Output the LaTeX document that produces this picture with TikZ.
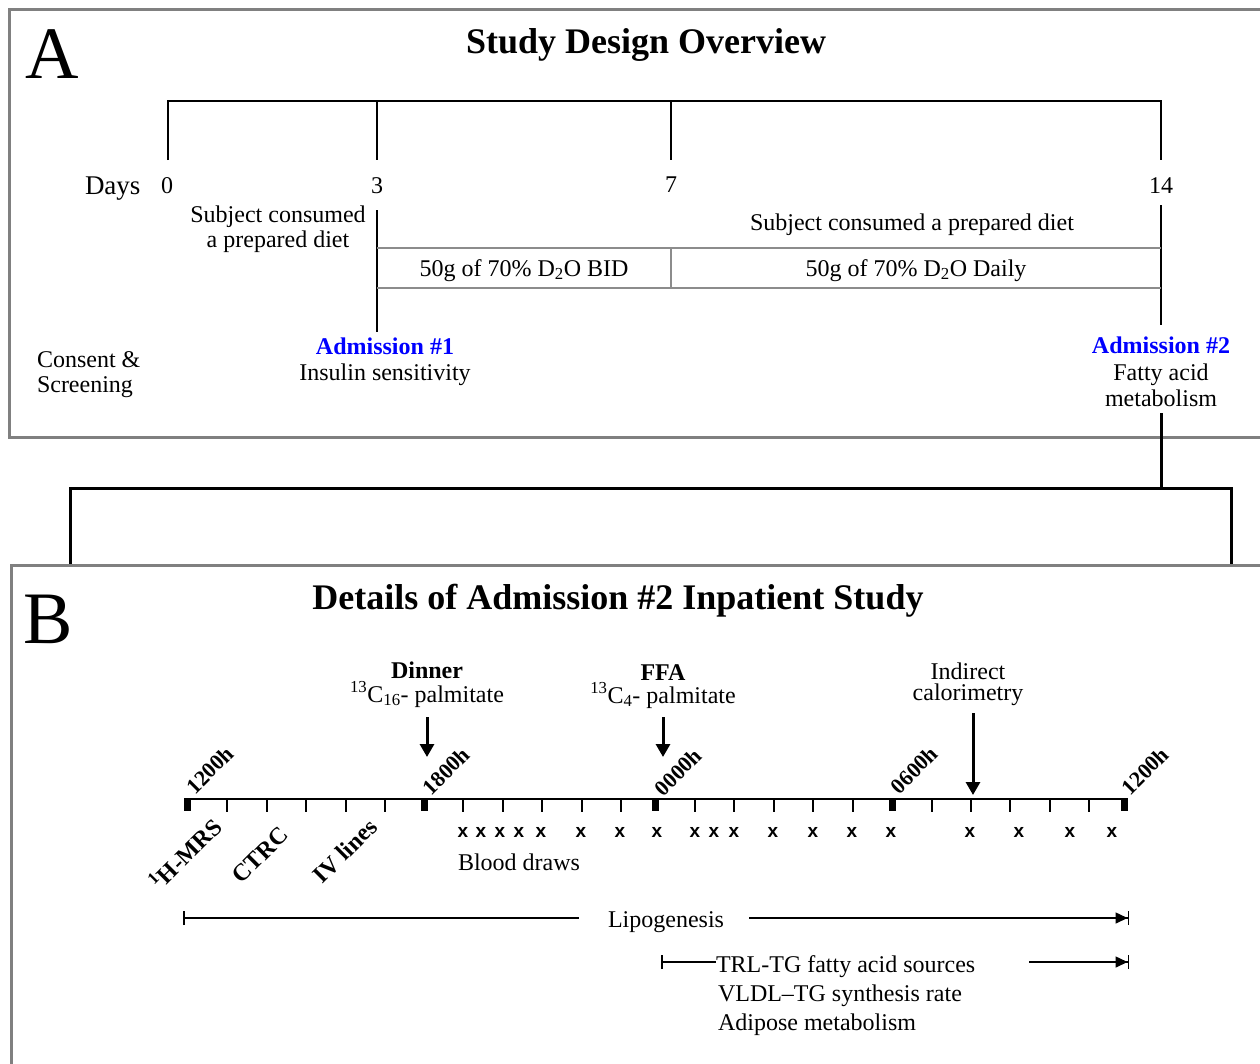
\documentclass[tikz,border=0pt]{standalone}
\usepackage{fontspec}
\setmainfont{Liberation Serif}
\newfontfamily\sansx{Liberation Sans}
\usetikzlibrary{arrows.meta}
\definecolor{panelgray}{RGB}{128,128,128}
\definecolor{boxgray}{RGB}{140,140,140}
\definecolor{admblue}{RGB}{0,0,255}
\begin{document}
\begin{tikzpicture}[x=1pt,y=-1pt,
  every node/.style={inner sep=0pt,outer sep=0pt},
  txt/.style={font=\fontsize{24}{26}\selectfont,anchor=base},
  txtl/.style={font=\fontsize{24}{26}\selectfont,anchor=base west},
  btxt/.style={font=\fontsize{24}{26}\selectfont\bfseries,anchor=base},
  adm/.style={font=\fontsize{24}{26}\selectfont\bfseries,text=admblue,anchor=base},
  bigletter/.style={font=\fontsize{74}{80}\selectfont,anchor=base},
  ttl/.style={font=\fontsize{36}{40}\selectfont\bfseries,anchor=base},
  hour/.style={font=\fontsize{22}{24}\selectfont\bfseries,rotate=45,anchor=center},
  act/.style={font=\fontsize{24}{26}\selectfont\bfseries,rotate=45,anchor=center},
  xmark/.style={font=\sansx\fontsize{19}{21}\selectfont\bfseries,anchor=base},
  panel/.style={draw=panelgray,line width=3pt},
  thin/.style={line width=1.5pt},
  gbox/.style={draw=boxgray,line width=1.5pt},
  link/.style={line width=3pt},
  downarrow/.style={line width=3pt,-{Triangle[length=13pt,width=14pt]}},
  spanline/.style={line width=1.5pt},
  startbar/.style={spanline,{Bar[width=14pt,line width=1.5pt]}-},
  endtip/.style={spanline,-{Triangle[length=12pt,width=11pt,sep=0pt]Bar[width=14pt,line width=1.5pt]}}
]
\useasboundingbox (0,0) rectangle (1260,1063);
\clip (0,0) rectangle (1260,1063);
\fill[white] (0,0) rectangle (1260,1063);

% ---------------- Panel A ----------------
\draw[panel] (9,9) rectangle (1280,437);
\node[bigletter] (letA) at (52,78) {A};
\node[ttl] (titleA) at (646,53) {Study Design Overview};

\coordinate (b0) at (168,101);
\coordinate (b3) at (377,101);
\coordinate (b7) at (671,101);
\coordinate (b14) at (1161,101);
\coordinate (b0e) at (168,160);
\coordinate (b3e) at (377,160);
\coordinate (b7e) at (671,160);
\coordinate (b14e) at (1161,160);
\draw[thin] (b0e) -- (b0) -- (b14) -- (b14e);
\draw[thin] (b3) -- (b3e);
\draw[thin] (b7) -- (b7e);

\node[txtl,font=\fontsize{27}{29}\selectfont] (days) at (85,194) {Days};
\node[txt] (d0) at (167,193) {0};
\node[txt] (d3) at (377,193) {3};
\node[txt] (d7) at (671,192) {7};
\node[txt] (d14) at (1161,193) {14};

\node[txt] (subj1) at (278,222) {Subject consumed};
\node[txt] (subj2) at (278,247) {a prepared diet};
\node[txt] (subj3) at (912,230) {Subject consumed a prepared diet};

\coordinate (v3t) at (377,210);
\coordinate (v3b) at (377,332);
\coordinate (v14t) at (1161,205);
\coordinate (v14b) at (1161,325);
\draw[thin] (v3t) -- (v3b);
\draw[thin] (v14t) -- (v14b);

\coordinate (bx1) at (377,248);
\coordinate (bx2) at (1161,248);
\coordinate (bx3) at (377,288);
\coordinate (bx4) at (1161,288);
\coordinate (bx5) at (671,248);
\coordinate (bx6) at (671,288);
\draw[gbox] (bx1) -- (bx2);
\draw[gbox] (bx3) -- (bx4);
\draw[gbox] (bx5) -- (bx6);
\node[txt] (dbid) at (524,276) {50g of 70\%\ D\textsubscript{2}O BID};
\node[txt] (ddaily) at (916,276) {50g of 70\%\ D\textsubscript{2}O Daily};

\node[txtl] (consent) at (37,367) {Consent \&};
\node[txtl] (screen) at (37,392) {Screening};
\node[adm] (adm1) at (385,354) {Admission \#1};
\node[txt] (ins) at (385,380) {Insulin sensitivity};
\node[adm] (adm2) at (1161,353) {Admission \#2};
\node[txt] (fatty) at (1161,380) {Fatty acid};
\node[txt] (metab) at (1161,406) {metabolism};

% connector A -> B
\coordinate (c1) at (1161,413);
\coordinate (c2) at (1161,488);
\coordinate (cl) at (70,488);
\coordinate (cr) at (1231,488);
\coordinate (cld) at (70,566);
\coordinate (crd) at (1231,566);
\draw[link] (c1) -- (c2);
\draw[link] (cld) -- (cl) -- (cr) -- (crd);

% ---------------- Panel B ----------------
\draw[panel] (11,565) rectangle (1280,1090);
\node[bigletter] (letB) at (48,643) {B};
\node[ttl] (titleB) at (618,609) {Details of Admission \#2 Inpatient Study};

% timeline
\coordinate (tl1) at (184,799);
\coordinate (tl2) at (1128,799);
\draw[line width=2pt] (tl1) -- (tl2);
\foreach \x in {187,424,655,892,1124}
  \fill (\x-3.5,798) rectangle (\x+3.5,811);
\foreach \x in {227,267,306,346,385,463,503,542,582,621,695,734,774,813,853,932,971,1010,1050,1089}
  \draw[line width=1.5pt] (\x,799) -- (\x,812);

\node[hour] (h1) at (210,770) {1200h};
\node[hour] (h2) at (446,771) {1800h};
\node[hour] (h3) at (678,772) {0000h};
\node[hour] (h4) at (914,770) {0600h};
\node[hour] (h5) at (1145,771) {1200h};

\node[act] (mrs) at (185,853) {\textsuperscript{1}H-MRS};
\node[act] (ctrc) at (260,855) {CTRC};
\node[act] (ivl) at (345,851) {IV lines};

% events
\node[btxt] (dinner) at (427,678) {Dinner};
\node[txt] (palm16) at (427,702) {\textsuperscript{13}C\textsubscript{16}- palmitate};
\node[btxt] (ffa) at (663,680) {FFA};
\node[txt] (palm4) at (663,703) {\textsuperscript{13}C\textsubscript{4}- palmitate};
\node[txt] (indir) at (968,679) {Indirect};
\node[txt] (calor) at (968,700) {calorimetry};

\coordinate (a1s) at (427,717);
\coordinate (a1e) at (427,757);
\coordinate (a2s) at (663,717);
\coordinate (a2e) at (663,757);
\coordinate (a3s) at (973,713);
\coordinate (a3e) at (973,795);
\draw[downarrow] (a1s) -- (a1e);
\draw[downarrow] (a2s) -- (a2e);
\draw[downarrow] (a3s) -- (a3e);

% blood draws
\foreach \x [count=\k] in {463,481,500,519,541,581,620,657,695,714,734,773,813,852,891,970,1019,1070,1112}
  \node[xmark] (x\k) at (\x,837) {x};
\node[txt] (blood) at (519,870) {Blood draws};

% lipogenesis span
\node[txt] (lipo) at (666,927) {Lipogenesis};
\coordinate (lp1) at (183,918);
\coordinate (lp2) at (579,918);
\coordinate (lp3) at (749,918);
\coordinate (lp4) at (1129,918);
\draw[startbar] (lp1) -- (lp2);
\draw[endtip] (lp3) -- (lp4);

% TRL span
\node[txtl] (trl) at (716,972) {TRL-TG fatty acid sources};
\node[txtl] (vldl) at (718,1001) {VLDL–TG synthesis rate};
\node[txtl] (adip) at (718,1030) {Adipose metabolism};
\coordinate (tr1) at (661,962);
\coordinate (tr2) at (716,962);
\coordinate (tr3) at (1029,962);
\coordinate (tr4) at (1129,962);
\draw[startbar] (tr1) -- (tr2);
\draw[endtip] (tr3) -- (tr4);
\end{tikzpicture}
\end{document}
